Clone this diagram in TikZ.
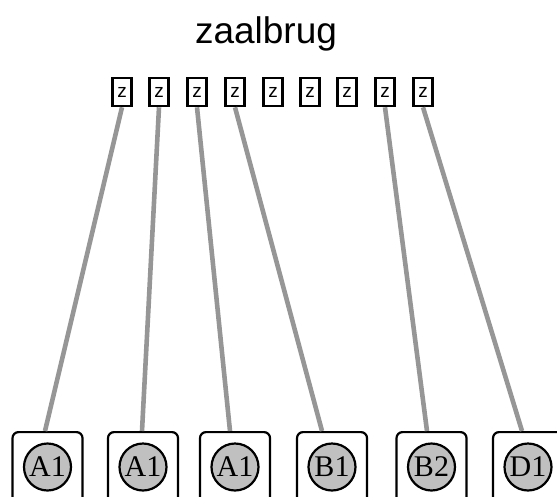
\documentclass[tikz,border=0pt]{standalone}
\usepackage{fontspec}
\setmainfont{Liberation Sans}
\newfontfamily\serifA{Liberation Serif}
\definecolor{edgegray}{RGB}{150,150,150}
\definecolor{circfill}{RGB}{192,192,192}
\begin{document}
\begin{tikzpicture}[x=1pt,y=-1pt,
  zbox/.style={draw=black,line width=2.6pt,minimum width=19pt,minimum height=28pt,inner sep=0pt,font=\fontsize{19}{19}\selectfont},
  outerbox/.style={draw=black,line width=2.2pt,rounded corners=6pt,minimum width=70pt,minimum height=90pt,inner sep=0pt,anchor=north},
  lbl/.style={circle,draw=black,line width=2.2pt,fill=circfill,minimum size=47pt,inner sep=0pt,font=\serifA\fontsize{30}{30}\selectfont},
  edge/.style={draw=edgegray,line width=4.6pt}]
\useasboundingbox (0,0) rectangle (557,496);
\begin{scope}
\clip (0,0) rectangle (557,496);
\node[anchor=base,font=\fontsize{37}{40}\selectfont] (title) at (266,43) {zaalbrug};
\foreach \i/\x in {1/122,2/159,3/197,4/235,5/273,6/310,7/347,8/385,9/423}{
  \node[zbox] (z\i) at (\x,92) {z};
}
\foreach \i/\x/\t in {1/47.5/A1,2/143/A1,3/235/A1,4/332/B1,5/431.5/B2,6/528/D1}{
  \node[outerbox] (b\i) at (\x,431) {};
  \node[lbl] (c\i) at (\x,467) {\t};
}
\draw[edge] (z1.south) -- ([xshift=-2.5pt]b1.north);
\draw[edge] (z2.south) -- ([xshift=-1pt]b2.north);
\draw[edge] (z3.south) -- ([xshift=-5pt]b3.north);
\draw[edge] (z4.south) -- ([xshift=-10pt]b4.north);
\draw[edge] (z8.south) -- ([xshift=-4.5pt]b5.north);
\draw[edge] (z9.south) -- ([xshift=-6pt]b6.north);
\end{scope}
\end{tikzpicture}
\end{document}
